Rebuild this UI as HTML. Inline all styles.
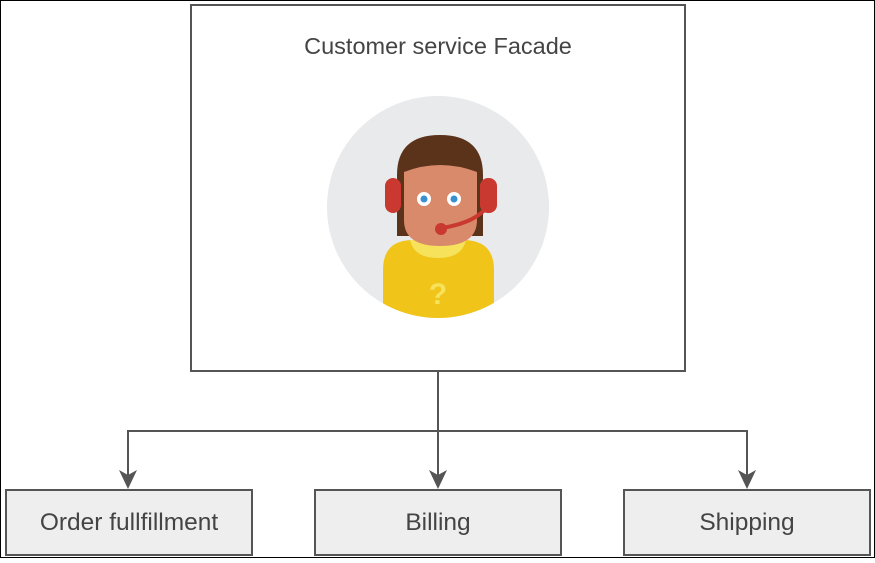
<!DOCTYPE html>
<html><head><style>
html,body{margin:0;padding:0;background:#fff}
body{width:875px;height:558px;overflow:hidden}
text{font-family:"Liberation Sans",Arial,sans-serif}
</style></head><body>
<svg width="875" height="558" viewBox="0 0 875 558" xmlns="http://www.w3.org/2000/svg">
<rect x="0.5" y="0.5" width="874" height="557" fill="#fff" stroke="#000" stroke-width="1"/>
<rect x="191" y="5" width="494" height="366" fill="#fff" stroke="#555" stroke-width="2"/>
<text x="438" y="54" font-size="23.5" fill="#444" text-anchor="middle">Customer service Facade</text>
<defs><clipPath id="c"><circle cx="438" cy="207" r="111"/></clipPath></defs>
<circle cx="438" cy="207" r="111" fill="#e9eaeb"/>
<g clip-path="url(#c)">
<path d="M383 325 L383 270 Q383 240 413 240 L463 240 Q494 240 494 270 L494 325 Z" fill="#f0c419"/>
<path d="M410 240 L466 240 Q462 258 438 258 Q414 258 410 240Z" fill="#f7e25c"/>
<text x="438" y="304" font-size="30" font-weight="bold" fill="#f7e25c" text-anchor="middle">?</text>
</g>
<path d="M397 236 L397 175 Q397 135 440 135 Q483 135 483 175 L483 236 Z" fill="#5b321a"/>
<path d="M404 172 Q440 158 477 172 L477 220 Q477 246 440 246 Q404 246 404 220 Z" fill="#d98a6b"/>
<rect x="385" y="178" width="16" height="35" rx="8" fill="#c9392f"/>
<rect x="480" y="178" width="17" height="35" rx="8" fill="#c9392f"/>
<circle cx="424" cy="199" r="7" fill="#fff"/><circle cx="424" cy="199" r="3.5" fill="#3a8fd1"/>
<circle cx="454" cy="199" r="7" fill="#fff"/><circle cx="454" cy="199" r="3.5" fill="#3a8fd1"/>
<path d="M488 205 Q478 222 442 228" fill="none" stroke="#c9392f" stroke-width="4"/>
<circle cx="441" cy="229" r="6" fill="#c9392f"/>
<g stroke="#555" stroke-width="2" fill="none">
<line x1="438" y1="371" x2="438" y2="476"/>
<polyline points="128,476 128,431 747,431 747,476"/>
</g>
<g fill="#555">
<polygon points="119,470 128,489 137,470 128,475"/>
<polygon points="429,470 438,489 447,470 438,475"/>
<polygon points="738,470 747,489 756,470 747,475"/>
</g>
<g fill="#eeeeee" stroke="#555" stroke-width="2">
<rect x="6" y="490" width="246" height="65"/>
<rect x="315" y="490" width="246" height="65"/>
<rect x="624" y="490" width="246" height="65"/>
</g>
<g font-size="24.5" fill="#444" text-anchor="middle">
<text x="129" y="530">Order fullfillment</text>
<text x="438" y="530">Billing</text>
<text x="747" y="530">Shipping</text>
</g>
</svg>
</body></html>
